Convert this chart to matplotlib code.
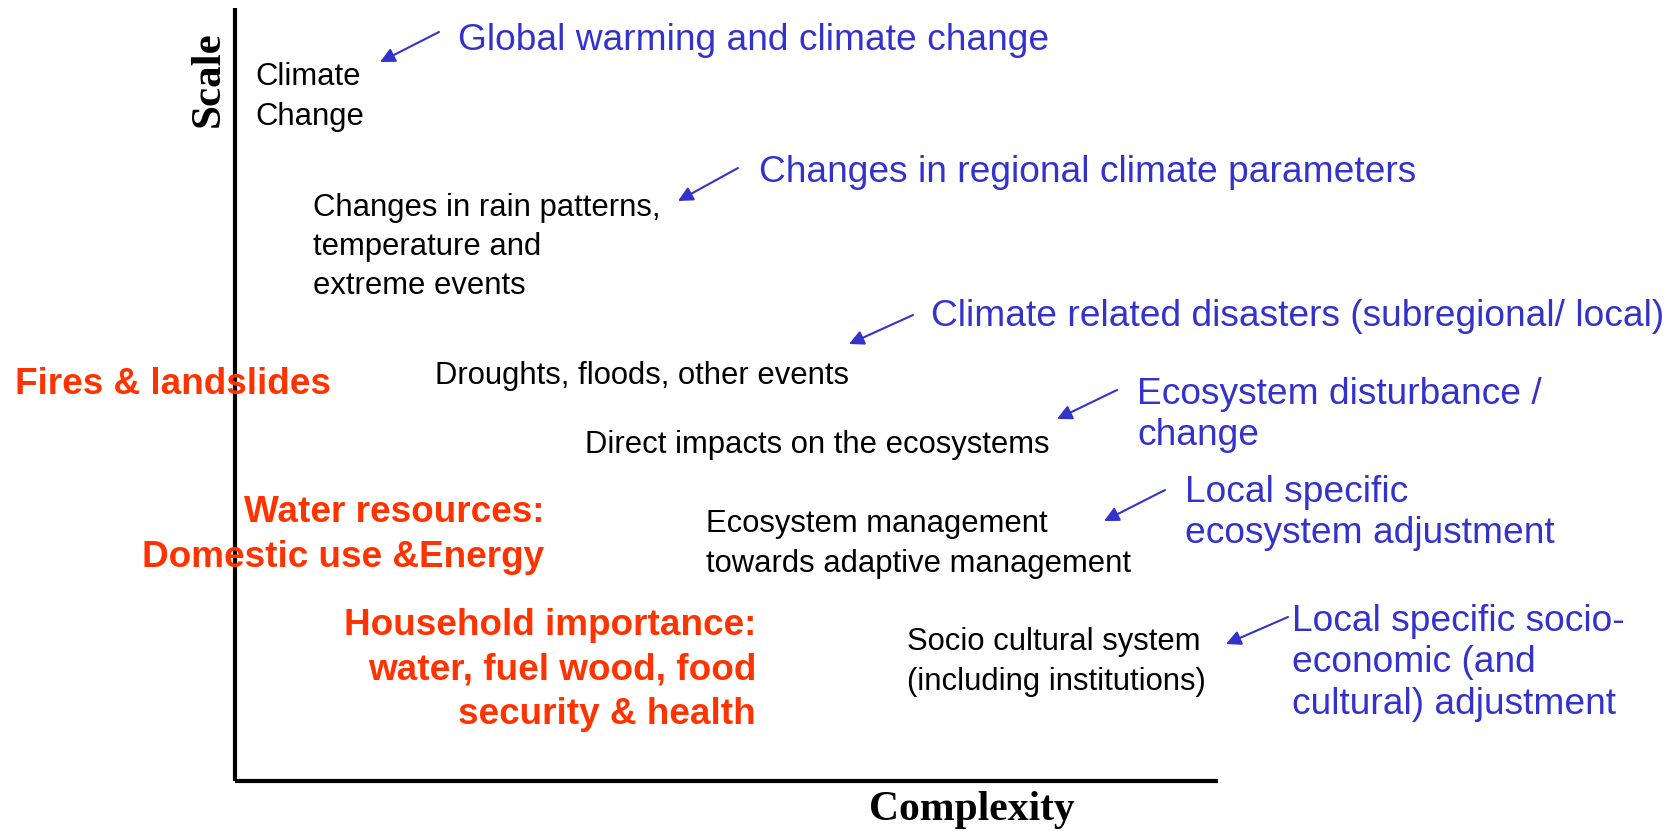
import matplotlib.pyplot as plt

# diagram text
black_labels = ["Climate\nChange",
                "Changes in rain patterns,\ntemperature and\nextreme events",
                "Droughts, floods, other events",
                "Direct impacts on the ecosystems",
                "Ecosystem management\ntowards adaptive management",
                "Socio cultural system\n(including institutions)"]
blue_labels = ["Global warming and climate change",
               "Changes in regional climate parameters",
               "Climate related disasters (subregional/ local)",
               "Ecosystem disturbance /\nchange",
               "Local specific\necosystem adjustment",
               "Local specific socio-\neconomic (and\ncultural) adjustment"]
red_labels = ["Fires & landslides",
              "Water resources:\nDomestic use &Energy",
              "Household importance:\nwater, fuel wood, food\nsecurity & health"]

# layout (pixel coordinates, y downwards)
black_xy = [(255, 97), (313, 247), (435, 376), (585, 445), (706, 544), (907, 662)]
blue_xy = [(458, 41), (759, 173), (931, 316), (1137, 415), (1185, 513), (1292, 663)]
arrow_tail = [(439, 32), (738, 168), (913, 315), (1117, 390), (1165, 490), (1288, 617)]
arrow_head = [(380, 62), (678, 201), (849, 344), (1057, 419), (1104, 521), (1226, 644)]
red_xy = [(15, 385, 'left'), (544, 535, 'right'), (756, 670, 'right')]

BLUE = '#3333cc'
RED = '#ff3300'
SANS = ['Liberation Sans', 'DejaVu Sans']
SERIF = ['Liberation Serif', 'DejaVu Serif']

fig = plt.figure(figsize=(16.79, 8.31), dpi=100)
ax = fig.add_axes([0, 0, 1, 1])
ax.set_xlim(0, 1679)
ax.set_ylim(831, 0)
ax.axis('off')

# axes of the diagram
ax.plot([235, 235], [8, 781], color='black', lw=3, solid_capstyle='butt')
ax.plot([235, 1218], [781, 781], color='black', lw=3, solid_capstyle='butt')
ax.text(209, 79, 'Scale', rotation=90, ha='center', va='center',
        fontsize=31, fontweight='bold', family=SERIF)
ax.text(972, 810, 'Complexity', ha='center', va='center',
        fontsize=30, fontweight='bold', family=SERIF)

for lab, (x, y) in zip(black_labels, black_xy):
    ax.text(x, y, lab, ha='left', va='center', fontsize=22.3, family=SANS,
            linespacing=1.4)

for lab, (x, y) in zip(blue_labels, blue_xy):
    ax.text(x, y, lab, ha='left', va='center', fontsize=26.7, family=SANS,
            color=BLUE, linespacing=1.24)

for t, h in zip(arrow_tail, arrow_head):
    ax.annotate('', xy=h, xytext=t,
                arrowprops=dict(arrowstyle='-|>', color=BLUE, lw=1.5,
                                mutation_scale=22, shrinkA=0, shrinkB=0))

for lab, (x, y, ha) in zip(red_labels, red_xy):
    ax.text(x, y, lab, ha=ha, va='center', fontsize=26.6, fontweight='bold',
            family=SANS, color=RED, multialignment=ha, linespacing=1.35)

fig.savefig('out.png', dpi=100, facecolor='white')
